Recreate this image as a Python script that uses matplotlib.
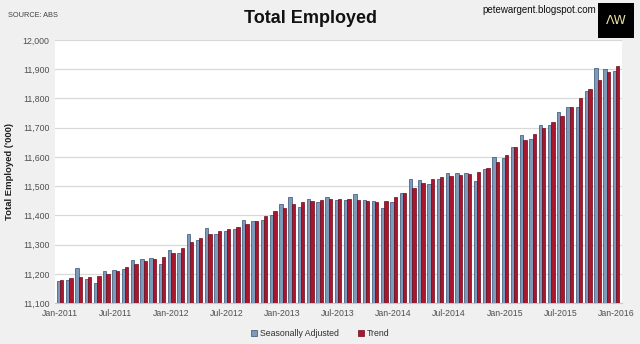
import matplotlib
matplotlib.use("Agg")
import matplotlib.pyplot as plt
from matplotlib.patches import Rectangle
from matplotlib.ticker import FuncFormatter
import numpy as np

NARROW = ["Liberation Sans Narrow", "Liberation Sans", "DejaVu Sans"]
plt.rcParams["font.family"] = NARROW

# Monthly, Jan-2011 .. Jan-2016, employed persons ('000)
months = ["Jan", "Feb", "Mar", "Apr", "May", "Jun",
          "Jul", "Aug", "Sep", "Oct", "Nov", "Dec"]
labels = [f"{months[i % 12]}-{2011 + i // 12}" for i in range(61)]

seasonally_adjusted = [
    11176, 11178, 11220, 11182, 11168, 11208, 11212, 11217, 11248, 11252, 11253, 11234,
    11281, 11272, 11335, 11317, 11357, 11337, 11345, 11353, 11384, 11380, 11384, 11400,
    11439, 11464, 11429, 11456, 11447, 11464, 11453, 11453, 11474, 11453, 11450, 11425,
    11446, 11476, 11525, 11522, 11508, 11526, 11544, 11544, 11545, 11518, 11558, 11600,
    11596, 11635, 11674, 11662, 11710, 11710, 11752, 11771, 11769, 11826, 11904, 11901,
    11895,
]
trend = [
    11178, 11185, 11190, 11190, 11192, 11200, 11210, 11224, 11234, 11243, 11250, 11258,
    11272, 11289, 11308, 11322, 11336, 11345, 11353, 11360, 11369, 11381, 11398, 11414,
    11425, 11438, 11446, 11450, 11453, 11455, 11456, 11457, 11453, 11449, 11446, 11450,
    11462, 11477, 11494, 11512, 11526, 11530, 11533, 11537, 11540, 11548, 11562, 11583,
    11607, 11633, 11658, 11679, 11699, 11719, 11740, 11769, 11800, 11833, 11864, 11891,
    11912,
]

SA_COLOR, SA_EDGE = "#7d9abb", "#34506f"
TR_COLOR, TR_EDGE = "#a8172e", "#6b0a1b"

fig = plt.figure(figsize=(6.4, 3.44), dpi=100)
fig.patch.set_facecolor("#f0f0f0")
ax = fig.add_axes([0.086, 0.119, 0.886, 0.765])
ax.set_facecolor("white")

x = np.arange(len(labels))
w = 0.36
ax.bar(x - w / 2, seasonally_adjusted, width=w, color=SA_COLOR,
       edgecolor=SA_EDGE, linewidth=0.5, label="Seasonally Adjusted", zorder=3)
ax.bar(x + w / 2, trend, width=w, color=TR_COLOR,
       edgecolor=TR_EDGE, linewidth=0.5, label="Trend", zorder=3)

ax.set_ylim(11100, 12000)
ax.set_yticks(np.arange(11100, 12001, 100))
ax.yaxis.set_major_formatter(FuncFormatter(lambda v, _: f"{v:,.0f}"))
ax.set_xlim(-0.55, len(labels) - 0.35)
ax.set_xticks(x[::6])
ax.set_xticklabels(labels[::6])
ax.tick_params(axis="both", length=0, labelsize=6.3, colors="#505050", pad=4)

ax.grid(axis="y", color="#d9d9d9", linewidth=0.9, zorder=0)
for side in ("top", "right", "left"):
    ax.spines[side].set_visible(False)
ax.spines["bottom"].set_color("#c8c8c8")

ax.set_ylabel("Total Employed ('000)", fontsize=6.8, fontweight="bold",
              color="#202020", labelpad=6)

leg = fig.legend(loc="lower center", bbox_to_anchor=(0.5, -0.005), ncol=2,
                 frameon=False, fontsize=6.3, handlelength=0.7, handleheight=0.7,
                 handletextpad=0.3, columnspacing=2.2)
for t in leg.get_texts():
    t.set_color("#303030")

fig.text(0.485, 0.945, "Total Employed", ha="center", va="center",
         fontsize=13, fontweight="bold", color="#111111")
fig.text(0.013, 0.955, "SOURCE: ABS", ha="left", va="center",
         fontsize=5.3, color="#404040")
fig.text(0.932, 0.97, "petewargent.blogspot.com", ha="right", va="center",
         fontsize=7, color="#111111")

# AW badge in the top-right corner
badge = Rectangle((0.935, 0.89), 0.056, 0.10, transform=fig.transFigure,
                  facecolor="black", edgecolor="none")
fig.patches.append(badge)
fig.text(0.963, 0.94, "ΛW", ha="center", va="center", fontsize=9,
         color="#e8dfa0", family=["DejaVu Sans"])

fig.savefig("out.png", dpi=100, facecolor=fig.get_facecolor())
